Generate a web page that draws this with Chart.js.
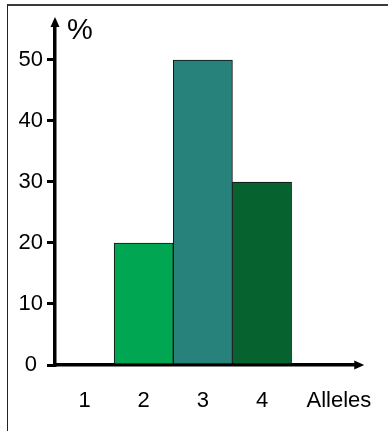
<!DOCTYPE html>
<html lang="en">
<head>
  <meta charset="UTF-8">
  <title>Alleles</title>
  <script src="https://cdn.jsdelivr.net/npm/chart.js"></script>
  <style>
    html, body { margin: 0; padding: 0; background: #fff; }
    #wrap { position: relative; width: 388px; height: 431px; }
    #frame {
      position: absolute; left: 7px; top: 4px; right: 0; bottom: 0;
      border-left: 1px solid #222; border-top: 2px solid #3a3a3a;
      pointer-events: none;
    }
  </style>
</head>
<body>
  <div id="wrap">
    <canvas id="allelesChart" width="388" height="431"></canvas>
    <div id="frame"></div>
  </div>

  <script>
    const alleles = ['1', '2', '3', '4'];
    const percents = [0, 20, 50, 30];
    const barColors = ['#ffffff', '#00a651', '#26827a', '#066330'];
    const xAxisName = 'Alleles';
    const yAxisName = '%';
    const yTicks = [0, 10, 20, 30, 40, 50];

    const fontFamily = '"Liberation Sans", Arial, sans-serif';

    // arrows on the axes and the % label
    const axisExtras = {
      id: 'axisExtras',
      afterDraw(chart) {
        const ctx = chart.ctx;
        const a = chart.chartArea;
        const xAxisY = chart.scales.x.top;
        const yAxisX = chart.scales.y.right;
        ctx.save();
        ctx.fillStyle = '#000';
        ctx.beginPath();
        ctx.moveTo(yAxisX, a.top - 7);
        ctx.lineTo(yAxisX - 4.5, a.top + 3);
        ctx.lineTo(yAxisX + 4.5, a.top + 3);
        ctx.closePath();
        ctx.fill();
        ctx.beginPath();
        ctx.moveTo(a.right + 7, xAxisY);
        ctx.lineTo(a.right - 3, xAxisY - 4.5);
        ctx.lineTo(a.right - 3, xAxisY + 4.5);
        ctx.closePath();
        ctx.fill();
        ctx.font = '29px ' + fontFamily;
        ctx.textAlign = 'left';
        ctx.textBaseline = 'middle';
        ctx.fillText(yAxisName, yAxisX + 12, 31);
        ctx.restore();
      }
    };

    new Chart(document.getElementById('allelesChart'), {
      type: 'bar',
      data: {
        datasets: [{
          data: percents.map((v, i) => ({ x: i + 1, y: v })),
          backgroundColor: barColors,
          borderColor: '#111',
          borderWidth: 1,
          barPercentage: 1,
          categoryPercentage: 1
        }]
      },
      options: {
        responsive: false,
        animation: false,
        layout: { padding: { top: 24, right: 28, bottom: 0, left: 0 } },
        plugins: { legend: { display: false }, tooltip: { enabled: false } },
        scales: {
          x: {
            type: 'linear',
            min: 0.5,
            max: 5.61,
            offset: false,
            grid: { display: false },
            border: { display: true, color: '#000', width: 3.5 },
            afterFit(scale) { scale.height = 66; },
            afterBuildTicks(scale) {
              scale.ticks = alleles.map((c, i) => ({ value: i + 1 })).concat([{ value: 5.3 }]);
            },
            ticks: {
              padding: 15,
              maxRotation: 0,
              autoSkip: false,
              color: '#000',
              font: { family: fontFamily, size: 22 },
              callback: (v) => v > 4.5 ? xAxisName : alleles[Math.round(v) - 1]
            }
          },
          y: {
            min: 0,
            max: 55.9,
            grid: {
              display: true,
              drawOnChartArea: false,
              drawTicks: true,
              tickLength: 8,
              color: '#000',
              lineWidth: 3
            },
            border: { display: true, color: '#000', width: 3.5 },
            afterFit(scale) { scale.width = 55; },
            afterBuildTicks(scale) {
              scale.ticks = yTicks.map(v => ({ value: v }));
            },
            ticks: {
              padding: 4,
              crossAlign: 'center',
              color: '#000',
              font: { family: fontFamily, size: 22 }
            }
          }
        }
      },
      plugins: [axisExtras]
    });
  </script>
</body>
</html>
